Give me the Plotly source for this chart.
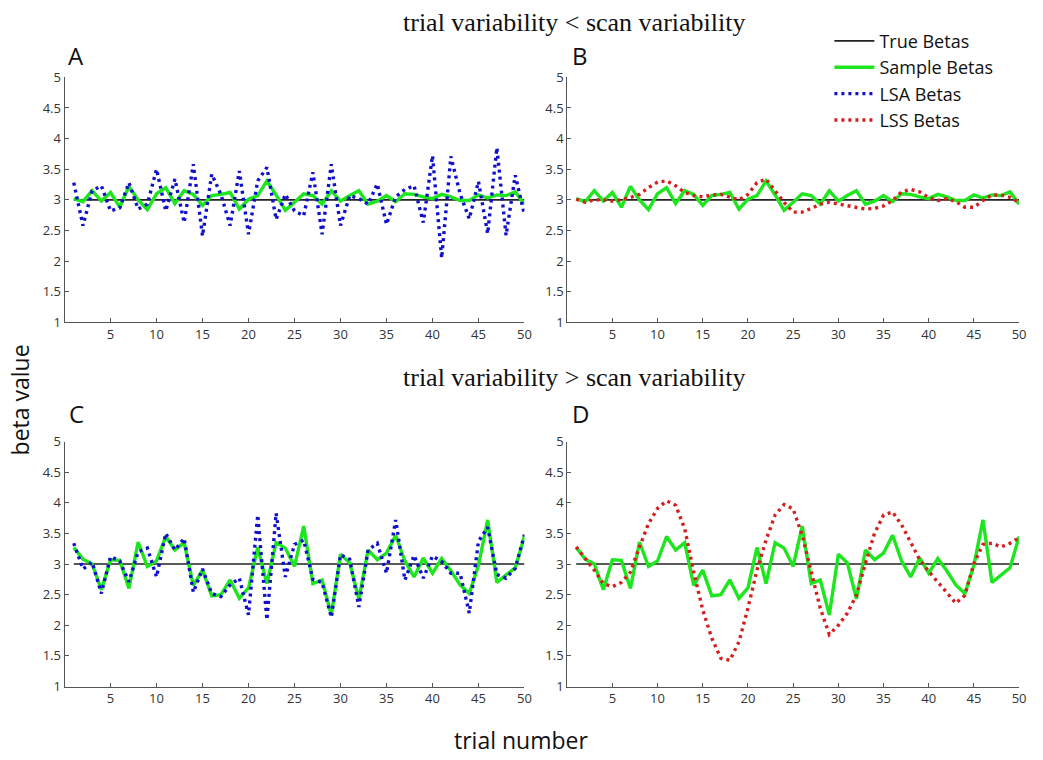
import plotly.graph_objects as go

W, H = 1043, 760

trials = list(range(1, 51))
true_betas = [3.0] * 50

# trial variability < scan variability
sample_low = [3.02, 2.97, 3.15, 2.98, 3.12, 2.88, 3.22, 3.00, 2.84, 3.10,
              3.20, 2.94, 3.15, 3.09, 2.91, 3.07, 3.09, 3.12, 2.85, 3.01,
              3.07, 3.31, 3.08, 2.83, 2.96, 3.10, 3.07, 2.93, 3.15, 2.98,
              3.07, 3.15, 2.93, 2.98, 3.07, 2.97, 3.10, 3.09, 3.05, 3.02,
              3.09, 3.05, 2.99, 2.99, 3.08, 3.03, 3.08, 3.07, 3.13, 2.93]
lsa_low = [3.28, 2.58, 3.15, 3.23, 2.82, 2.87, 3.28, 2.85, 2.93, 3.50,
           2.82, 3.34, 2.63, 3.58, 2.41, 3.42, 3.09, 2.58, 3.47, 2.44,
           3.31, 3.53, 2.68, 3.09, 2.82, 2.74, 3.45, 2.44, 3.58, 2.58,
           3.07, 3.02, 2.93, 3.26, 2.60, 3.05, 3.17, 3.23, 2.63, 3.72,
           2.05, 3.71, 3.10, 2.69, 3.30, 2.45, 3.85, 2.42, 3.40, 2.76]
lss_low = [3.01, 2.96, 3.00, 3.00, 2.98, 3.00, 3.04, 3.09, 3.20, 3.29,
           3.31, 3.23, 3.12, 3.07, 3.05, 3.08, 3.09, 3.04, 3.00, 3.09,
           3.28, 3.34, 3.15, 2.96, 2.80, 2.80, 2.86, 2.93, 2.96, 2.93,
           2.91, 2.88, 2.85, 2.86, 2.90, 2.99, 3.13, 3.17, 3.13, 3.04,
           2.99, 3.02, 2.97, 2.88, 2.88, 2.99, 3.08, 3.08, 3.04, 2.96]

# trial variability > scan variability
sample_high = [3.27, 3.08, 3.00, 2.58, 3.07, 3.06, 2.60, 3.36, 2.96, 3.05,
               3.45, 3.23, 3.35, 2.65, 2.90, 2.48, 2.50, 2.74, 2.44, 2.61,
               3.27, 2.68, 3.35, 3.26, 2.96, 3.62, 2.68, 2.74, 2.17, 3.16,
               3.02, 2.43, 3.23, 3.07, 3.18, 3.47, 3.05, 2.79, 3.10, 2.85,
               3.09, 2.89, 2.66, 2.52, 2.98, 3.72, 2.70, 2.82, 2.94, 3.45]
lsa_high = [3.34, 2.92, 3.03, 2.52, 3.12, 3.05, 2.71, 3.20, 3.26, 2.79,
            3.50, 3.23, 3.42, 2.54, 2.92, 2.52, 2.47, 2.66, 2.77, 2.17,
            3.80, 2.09, 3.83, 2.79, 3.32, 3.39, 2.75, 2.70, 2.13, 3.15,
            3.08, 2.30, 3.23, 3.34, 2.85, 3.72, 2.74, 3.14, 2.77, 3.13,
            3.04, 2.85, 2.85, 2.20, 3.37, 3.60, 2.83, 2.77, 2.93, 3.48]
lss_high = [3.28, 3.09, 2.90, 2.68, 2.63, 2.70, 2.87, 3.28, 3.66, 3.91,
            4.03, 3.96, 3.58, 2.87, 2.25, 1.79, 1.46, 1.43, 1.73, 2.28,
            2.90, 3.39, 3.80, 3.97, 3.90, 3.47, 2.88, 2.28, 1.85, 2.00,
            2.20, 2.49, 3.01, 3.50, 3.80, 3.85, 3.64, 3.34, 3.07, 2.88,
            2.71, 2.52, 2.36, 2.49, 3.01, 3.32, 3.34, 3.28, 3.34, 3.43]

x_ticks = [5, 10, 15, 20, 25, 30, 35, 40, 45, 50]
y_ticks = [1, 1.5, 2, 2.5, 3, 3.5, 4, 4.5, 5]
y_ticklabels = ["1", "1.5", "2", "2.5", "3", "3.5", "4", "4.5", "5"]

titles = ["trial variability < scan variability", "trial variability > scan variability"]
panel_letters = ["A", "B", "C", "D"]
legend_names = ["True Betas", "Sample Betas", "LSA Betas", "LSS Betas"]

BLACK = "#222222"
GREEN = "#1ee61e"
BLUE = "#1010cc"
RED = "#d61e1e"

# pixel geometry
left_x = (65, 528)
right_x = (571, 1026)
top_y = (70, 321)
bot_y = (443, 694)

def xd(px):
    return [px[0] / W, px[1] / W]

def yd(py):
    return [1 - py[1] / H, 1 - py[0] / H]

fig = go.Figure()

panels = [
    ("x", "y", sample_low, lsa_low, BLUE, "LSA"),
    ("x2", "y2", sample_low, lss_low, RED, "LSS"),
    ("x3", "y3", sample_high, lsa_high, BLUE, "LSA"),
    ("x4", "y4", sample_high, lss_high, RED, "LSS"),
]

for i, (xa, ya, samp, est, col, kind) in enumerate(panels):
    fig.add_trace(go.Scatter(x=trials, y=true_betas, mode="lines", xaxis=xa, yaxis=ya,
                             line=dict(color=BLACK, width=1.6),
                             name=legend_names[0], legendrank=1, showlegend=(i == 1)))
    fig.add_trace(go.Scatter(x=trials, y=samp, mode="lines", xaxis=xa, yaxis=ya,
                             line=dict(color=GREEN, width=3.4),
                             name=legend_names[1], legendrank=2, showlegend=(i == 1)))
    if kind == "LSA":
        fig.add_trace(go.Scatter(x=trials, y=est, mode="lines", xaxis=xa, yaxis=ya,
                                 line=dict(color=col, width=3.4, dash="3px,4px"),
                                 name=legend_names[2], legendrank=3, showlegend=(i == 0)))
    else:
        fig.add_trace(go.Scatter(x=trials, y=est, mode="lines", xaxis=xa, yaxis=ya,
                                 line=dict(color=col, width=3.4, dash="3px,4px"),
                                 name=legend_names[3], legendrank=4, showlegend=(i == 1)))

axis_common = dict(showgrid=False, zeroline=False, showline=True, linecolor="#555555",
                   linewidth=1, ticks="inside", ticklen=4, tickcolor="#555555",
                   tickfont=dict(family="Open Sans", size=13, color="#333333"))

layout = dict(width=W, height=H, margin=dict(l=0, r=0, t=0, b=0),
              paper_bgcolor="white", plot_bgcolor="white", showlegend=True)

doms = [(left_x, top_y), (right_x, top_y), (left_x, bot_y), (right_x, bot_y)]
for i, (dx, dy) in enumerate(doms):
    sfx = "" if i == 0 else str(i + 1)
    layout["xaxis" + sfx] = dict(domain=xd(dx), range=[0, 50], tickvals=x_ticks,
                                  anchor="y" + sfx, **axis_common)
    layout["yaxis" + sfx] = dict(domain=yd(dy), range=[1, 5], tickvals=y_ticks,
                                  ticktext=y_ticklabels, anchor="x" + sfx, **axis_common)

fig.update_layout(**layout)

fig.update_layout(legend=dict(x=835 / W, y=1 - 14 / H, xanchor="left", yanchor="top",
                              bgcolor="rgba(0,0,0,0)",
                              font=dict(family="Open Sans", size=18, color="#111111"),
                              itemwidth=40, tracegroupgap=0))

ann = []
ann.append(dict(text=titles[0], x=578 / W, y=1 - 14 / H, xref="paper", yref="paper",
                xanchor="center", yanchor="middle", showarrow=False,
                font=dict(family="Liberation Serif", size=26, color="#111111")))
ann.append(dict(text=titles[1], x=578 / W, y=1 - 377 / H, xref="paper", yref="paper",
                xanchor="center", yanchor="middle", showarrow=False,
                font=dict(family="Liberation Serif", size=26, color="#111111")))
letter_pos = [(77, 48), (584, 48), (77, 414), (584, 414)]
for lt, (px, py) in zip(panel_letters, letter_pos):
    ann.append(dict(text=lt, x=px / W, y=1 - py / H, xref="paper", yref="paper",
                    xanchor="center", yanchor="middle", showarrow=False,
                    font=dict(family="Open Sans", size=24, color="#111111")))
ann.append(dict(text="beta value", x=20 / W, y=1 - 400 / H, xref="paper", yref="paper",
                xanchor="center", yanchor="middle", showarrow=False, textangle=-90,
                font=dict(family="Open Sans", size=23, color="#111111")))
ann.append(dict(text="trial number", x=525 / W, y=1 - 749 / H, xref="paper", yref="paper",
                xanchor="center", yanchor="middle", showarrow=False,
                font=dict(family="Open Sans", size=23, color="#111111")))
fig.update_layout(annotations=ann)

fig.write_html("out.html")
